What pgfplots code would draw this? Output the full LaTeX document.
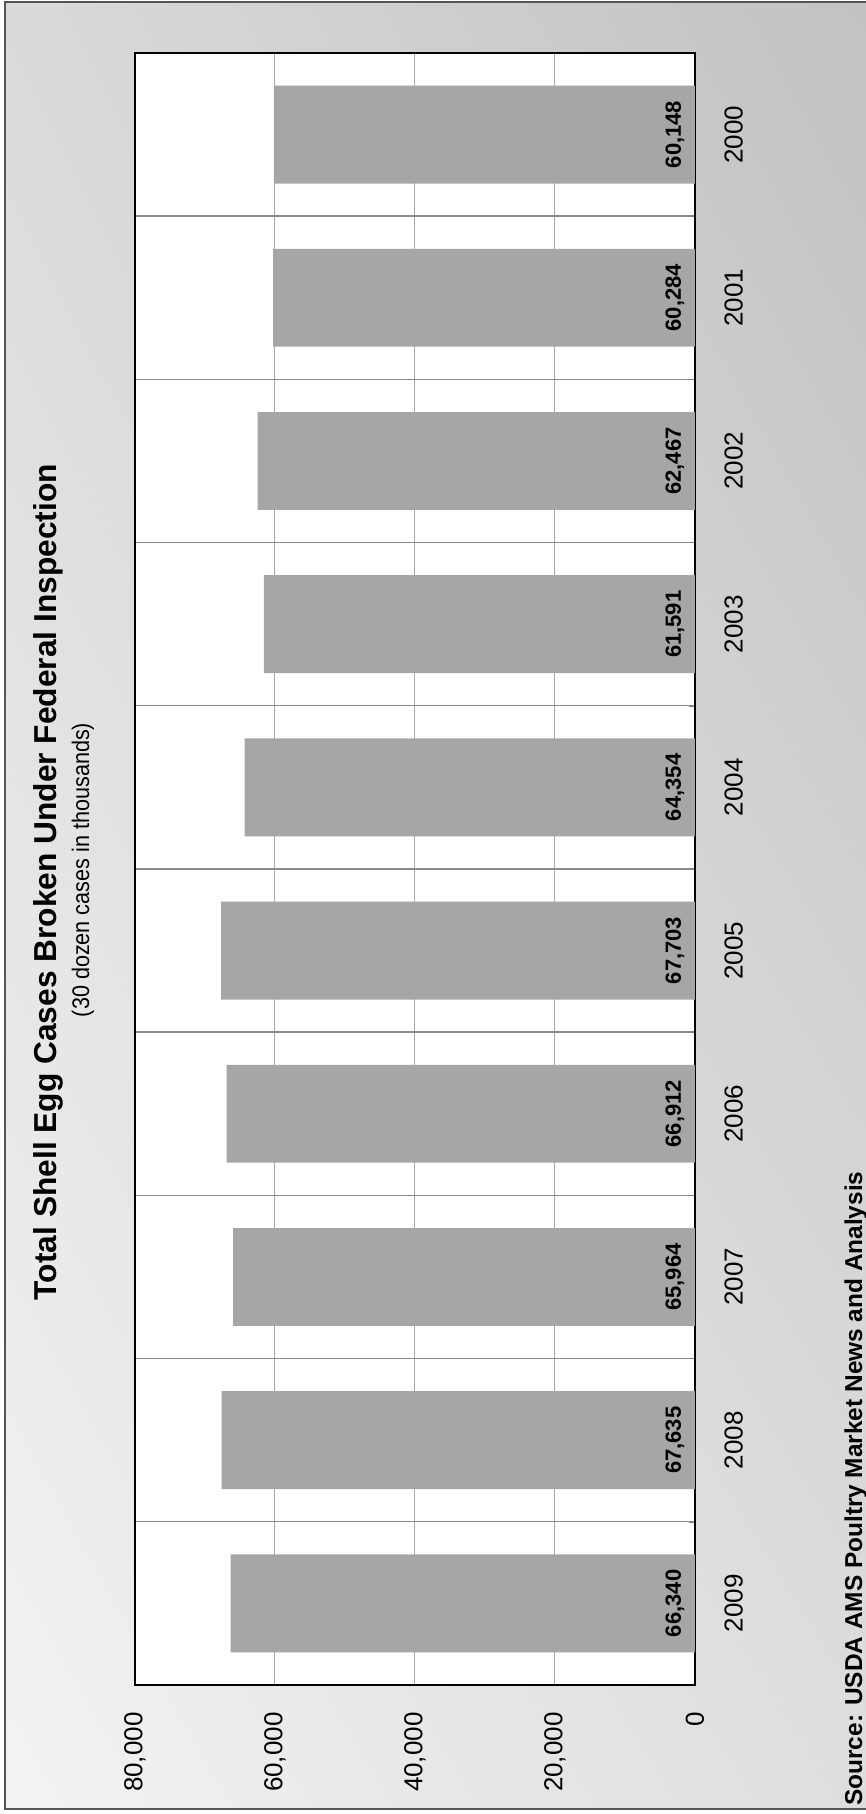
\documentclass[border=0pt]{standalone}
\usepackage{pgfplots}
\pgfplotsset{compat=1.18}
\usetikzlibrary{shadings}
\usepackage{fontspec}
\setmainfont{Liberation Sans}
\definecolor{barc}{HTML}{A6A6A6}
\definecolor{bgLL}{HTML}{F3F3F3}
\definecolor{bgUL}{HTML}{DADADA}
\definecolor{bgLR}{HTML}{DEDEDE}
\definecolor{bgUR}{HTML}{C2C2C2}
\definecolor{frame}{HTML}{555555}
\definecolor{vgrid}{HTML}{A8A8A8}
\definecolor{cgrid}{HTML}{8A8A8A}
\begin{document}
\begin{tikzpicture}[x=1bp,y=1bp]
\useasboundingbox (0,0) rectangle (433,907);
\shade[lower left=bgLL, upper left=bgUL, lower right=bgLR, upper right=bgUR] (2,2) rectangle (433,906);
\draw[frame, line width=1bp] (2.5,2.5) rectangle (440,906);
\begin{axis}[
  at={(67.5bp,64.5bp)}, anchor=south west,
  scale only axis, width=280bp, height=816bp,
  x dir=reverse,
  xmin=0, xmax=80000,
  ymin=-0.5, ymax=9.5,
  enlargelimits=false,
  axis background/.style={fill=white},
  axis line style={black, line width=0.6bp},
  xtick={0,20000,40000,60000,80000},
  scaled x ticks=false,
  xmajorgrids,
  major grid style={vgrid, line width=0.5bp},
  xtick style={draw=none},
  xticklabel style={rotate=90, anchor=east, inner sep=0pt,
     font=\fontsize{13bp}{15bp}\selectfont,
     /pgf/number format/1000 sep={,}},
  xticklabel shift=13.5bp,
  ytick={0,1,2,3,4,5,6,7,8,9},
  yticklabels={2009,2008,2007,2006,2005,2004,2003,2002,2001,2000},
  minor ytick={0.5,1.5,2.5,3.5,4.5,5.5,6.5,7.5,8.5},
  yminorgrids,
  minor grid style={cgrid, line width=0.7bp},
  major tick length=0pt,
  minor tick length=3bp,
  ytick pos=upper,
  yticklabel pos=upper,
  yticklabel style={rotate=90, anchor=north, inner sep=0pt,
     font=\fontsize{13bp}{15bp}\selectfont},
  yticklabel shift=14.5bp,
  /pgf/number format/assume math mode=true,
  clip=false,
]
\addplot[xbar, bar shift=0pt, bar width=0.6, fill=barc, draw=none] coordinates {
  (66340,0) (67635,1) (65964,2) (66912,3) (67703,4)
  (64354,5) (61591,6) (62467,7) (60284,8) (60148,9)
};
\addplot[draw=none, mark=none, point meta=explicit,
  nodes near coords={\pgfmathprintnumber[fixed,precision=0,1000 sep={,}]{\pgfplotspointmeta}},
  every node near coord/.style={rotate=90, anchor=base, inner sep=0pt,
     font=\bfseries\fontsize{11bp}{13bp}\selectfont}] coordinates {
  (2000,0) [66340] (2000,1) [67635] (2000,2) [65964] (2000,3) [66912] (2000,4) [67703]
  (2000,5) [64354] (2000,6) [61591] (2000,7) [62467] (2000,8) [60284] (2000,9) [60148]
};
\end{axis}
\node[rotate=90, anchor=base, inner sep=0pt] at (28.3,466)
  {\bfseries\fontsize{15.85bp}{18bp}\selectfont Total Shell Egg Cases Broken Under Federal Inspection};
\node[rotate=90, anchor=base, inner sep=0pt] at (44.5,472)
  {\scalebox{0.9}[1]{\fontsize{12bp}{14bp}\selectfont (30 dozen cases in thousands)}};
\node[rotate=90, anchor=base west, inner sep=0pt] at (431,4)
  {\bfseries\fontsize{12.2bp}{14bp}\selectfont Source: USDA AMS Poultry Market News and Analysis};
\end{tikzpicture}
\end{document}
